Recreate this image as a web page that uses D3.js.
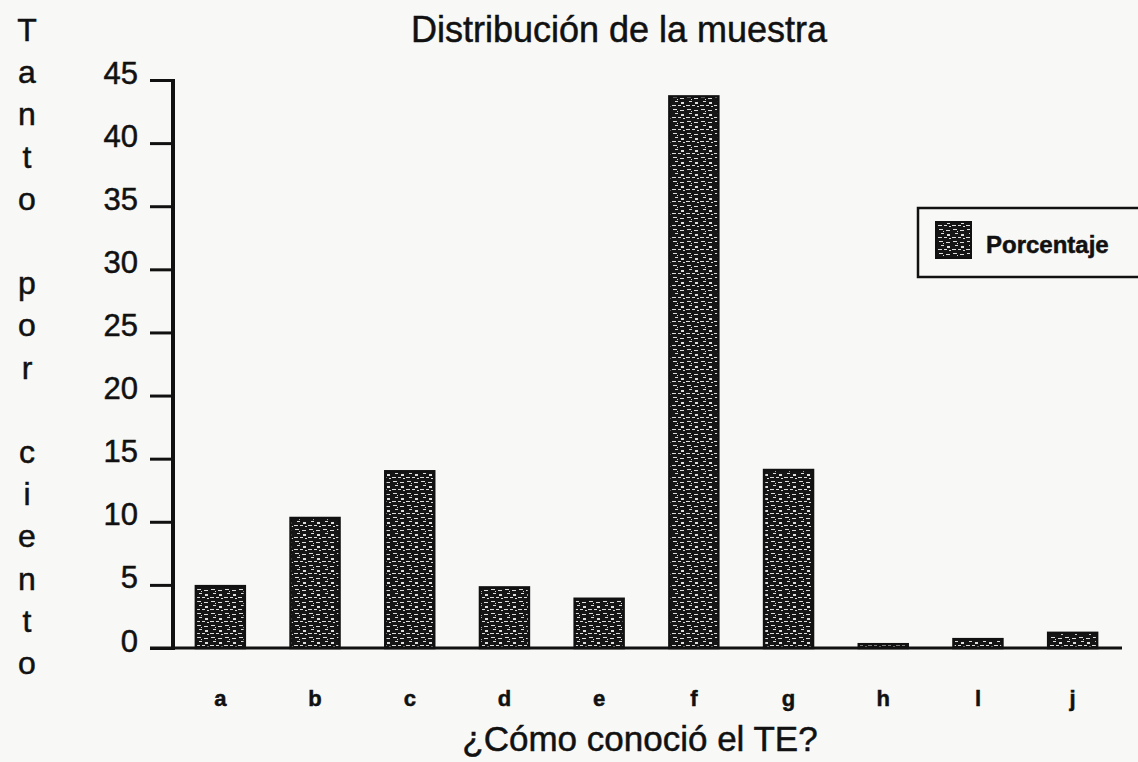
<!DOCTYPE html>
<html lang="es">
<head>
<meta charset="utf-8">
<title>Distribución de la muestra</title>
<script src="https://cdnjs.cloudflare.com/ajax/libs/d3/7.8.5/d3.min.js"></script>
<style>
  body { margin: 0; background: #f8f8f6; }
  svg { display: block; font-family: "Liberation Sans", Arial, sans-serif; }
  text { fill: #111; stroke: #111; stroke-width: 0.5px; }
  .tick text { font-size: 31px; }
  .xlab { font-size: 22px; font-weight: bold; }
</style>
</head>
<body>
<div id="chart"></div>
<script>
var categories = ["a", "b", "c", "d", "e", "f", "g", "h", "i", "j"];
var catLabels = ["a", "b", "c", "d", "e", "f", "g", "h", "l", "j"];
var percent = [4.9, 10.3, 14.0, 4.8, 3.9, 43.7, 14.1, 0.3, 0.7, 1.2];
var yTicks = [0, 5, 10, 15, 20, 25, 30, 35, 40, 45];
var yLetters = ["T","a","n","t","o","","p","o","r","","c","i","e","n","t","o"];

var w = 1138, h = 762;
var svg = d3.select("#chart").append("svg")
  .attr("width", w).attr("height", h);

// texture for the bars (fixed tile, looks like the scanned halftone)
var defs = svg.append("defs");
var pat = defs.append("pattern")
  .attr("id", "tex").attr("patternUnits", "userSpaceOnUse")
  .attr("width", 14).attr("height", 12);
pat.append("rect").attr("width", 14).attr("height", 12).attr("fill", "#151515");
var specks = [[1,1,4,1],[8,2,4,1],[3,5,3,1],[9,6,3,2],[0,9,4,1],[6,9,3,1],[11,10,2,1],[5,3,1,1]];
specks.forEach(function(s){
  pat.append("rect").attr("x", s[0]).attr("y", s[1]).attr("width", s[2]).attr("height", s[3]).attr("fill", "#dcdcdc");
});

var x = d3.scaleBand().domain(categories).range([173, 1120]).paddingInner(0.483).paddingOuter(0.2415);
var y = d3.scaleLinear().domain([0, 45]).range([648, 80]);

// y axis
var yAxis = svg.append("g").attr("transform", "translate(173,0)")
  .call(d3.axisLeft(y).tickValues(yTicks).tickSize(23).tickPadding(12));
yAxis.select(".domain").remove();
yAxis.selectAll(".tick line").attr("stroke", "#111").attr("stroke-width", 3);
yAxis.selectAll(".tick text").attr("dy", "0.1em").attr("font-family", "Liberation Sans, Arial, sans-serif");
svg.append("line").attr("x1", 173).attr("x2", 173).attr("y1", y(45) - 1).attr("y2", y(0) + 2)
  .attr("stroke", "#111").attr("stroke-width", 4);

// bars
svg.selectAll("rect.bar").data(percent).enter().append("rect")
  .attr("class", "bar")
  .attr("x", function(d, i){ return x(categories[i]); })
  .attr("y", function(d){ return y(d); })
  .attr("width", x.bandwidth())
  .attr("height", function(d){ return y(0) - y(d); })
  .attr("fill", "url(#tex)")
  .attr("stroke", "#111").attr("stroke-width", 2.5);

// baseline
svg.append("line").attr("x1", 150).attr("x2", 1122).attr("y1", y(0)).attr("y2", y(0))
  .attr("stroke", "#111").attr("stroke-width", 3);

// category labels
svg.selectAll("text.xlab").data(catLabels).enter().append("text")
  .attr("class", "xlab")
  .attr("x", function(d, i){ return x(categories[i]) + x.bandwidth() / 2; })
  .attr("y", 706)
  .attr("text-anchor", "middle")
  .text(function(d){ return d; });

// title and axis titles
svg.append("text").text("Distribución de la muestra")
  .attr("x", 619).attr("y", 42).attr("text-anchor", "middle")
  .attr("font-size", 36);
svg.append("text").text("¿Cómo conoció el TE?")
  .attr("x", 640).attr("y", 751).attr("text-anchor", "middle")
  .attr("font-size", 35);
svg.append("g").selectAll("text").data(yLetters).enter().append("text")
  .attr("x", 27).attr("y", function(d, i){ return 41 + i * 42.2; })
  .attr("text-anchor", "middle").attr("font-size", 32)
  .text(function(d){ return d; });

// legend
var lg = svg.append("g");
lg.append("rect").attr("x", 918).attr("y", 208).attr("width", 240).attr("height", 69)
  .attr("fill", "none").attr("stroke", "#111").attr("stroke-width", 2.5);
lg.append("rect").attr("x", 936).attr("y", 222).attr("width", 35).attr("height", 36)
  .attr("fill", "url(#tex)").attr("stroke", "#111").attr("stroke-width", 2);
lg.append("text").text("Porcentaje").attr("x", 986).attr("y", 253)
  .attr("font-size", 24).attr("font-weight", "bold");
</script>
</body>
</html>
